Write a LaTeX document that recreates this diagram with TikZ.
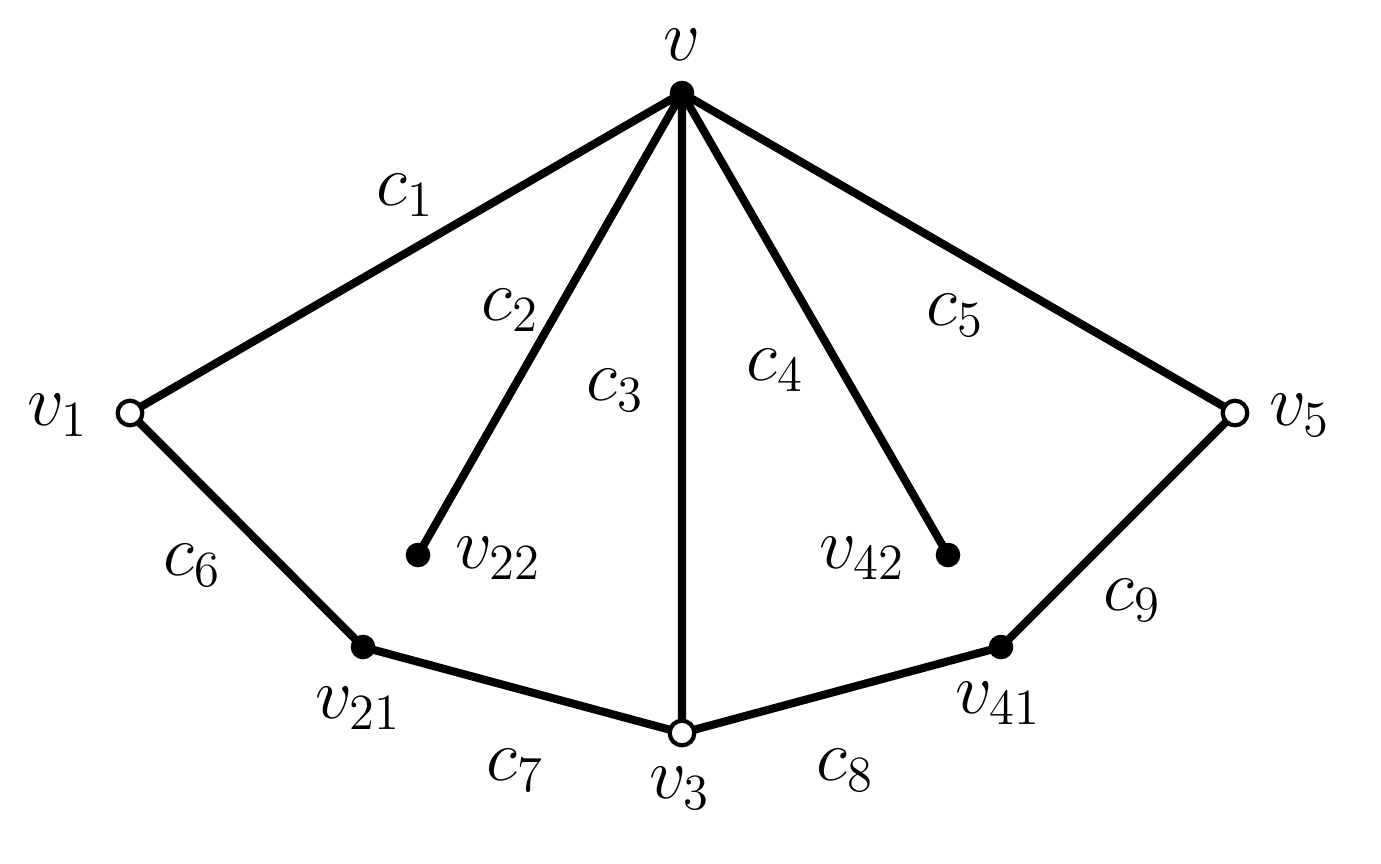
\documentclass[tikz,border=0pt]{standalone}
\begin{document}
\begin{tikzpicture}[x=0.01cm,y=-0.01cm,
  edge/.style={line width=2.3pt},
  full/.style={circle,fill=black,inner sep=0pt,minimum size=7pt},
  hollow/.style={circle,draw=black,fill=white,line width=1.2pt,inner sep=0pt,minimum size=7pt},
  lab/.style={font=\fontsize{22}{26}\selectfont,inner sep=0pt}]
\useasboundingbox (0,0) rectangle (1381,863);
\coordinate (v) at (682,93);
\coordinate (v1) at (130,413);
\coordinate (v5) at (1235,413);
\coordinate (v22) at (418,555);
\coordinate (v42) at (948,555);
\coordinate (v21) at (363,647);
\coordinate (v41) at (1001,647);
\coordinate (v3) at (682,733);
\draw[edge] (v)--(v1) (v)--(v22) (v)--(v3) (v)--(v42) (v)--(v5)
  (v1)--(v21)--(v3)--(v41)--(v5);
\node[full] (nv) at (v) {};
\node[hollow] (nv1) at (v1) {};
\node[hollow] (nv5) at (v5) {};
\node[full] (nv22) at (v22) {};
\node[full] (nv42) at (v42) {};
\node[full] (nv21) at (v21) {};
\node[full] (nv41) at (v41) {};
\node[hollow] (nv3) at (v3) {};
\node[lab] (lv) at (682,45) {$v$};
\node[lab] (lv1) at (58,415) {$v_1$};
\node[lab] (lv5) at (1300,415) {$v_5$};
\node[lab] (lv22) at (498,558) {$v_{22}$};
\node[lab] (lv42) at (862,558) {$v_{42}$};
\node[lab] (lv21) at (358,708) {$v_{21}$};
\node[lab] (lv41) at (998,703) {$v_{41}$};
\node[lab] (lv3) at (680,788) {$v_3$};
\node[lab] (c1) at (405,195) {$c_1$};
\node[lab] (c2) at (510,310) {$c_2$};
\node[lab] (c3) at (615,390) {$c_3$};
\node[lab] (c4) at (775,370) {$c_4$};
\node[lab] (c5) at (955,315) {$c_5$};
\node[lab] (c6) at (192,565) {$c_6$};
\node[lab] (c7) at (515,770) {$c_7$};
\node[lab] (c8) at (845,770) {$c_8$};
\node[lab] (c9) at (1132,600) {$c_9$};
\end{tikzpicture}
\end{document}
